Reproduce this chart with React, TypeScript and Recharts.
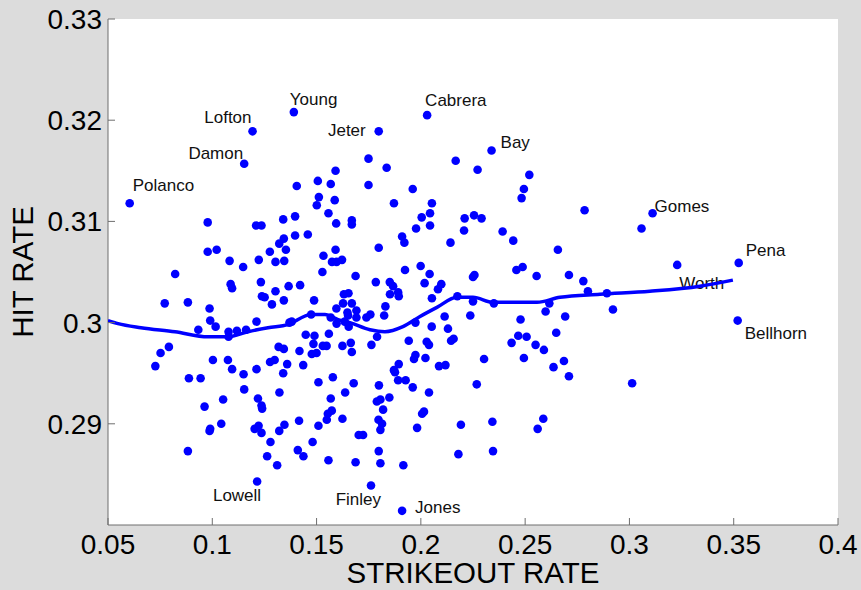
import { ScatterChart, Scatter, XAxis, YAxis, CartesianGrid, Label } from 'recharts'

// strikeout rate / hit rate for the unlabeled players
const SO_RATE = [
  0.1405, 0.1506, 0.1568, 0.1591, 0.1511, 0.1501, 0.1587, 0.1557, 0.1594, 0.0978,
  0.1210, 0.1236, 0.1340, 0.1397, 0.1397, 0.1458, 0.1343, 0.1321, 0.1353, 0.1021,
  0.0978, 0.1276, 0.1591, 0.1083, 0.1148, 0.1223, 0.1303, 0.1345, 0.0822, 0.1088,
  0.1095, 0.1233, 0.1366, 0.1421, 0.1303, 0.1238, 0.1251, 0.1343, 0.1286, 0.1533,
  0.1574, 0.1596, 0.1622, 0.1528, 0.1488, 0.1595, 0.0772, 0.0883, 0.0987, 0.0990,
  0.1016, 0.0933, 0.1078, 0.1078, 0.1118, 0.1162, 0.1212, 0.1370, 0.1381, 0.1474,
  0.1568, 0.1596, 0.1448, 0.1490, 0.1485, 0.1559, 0.1530, 0.1548, 0.1318, 0.1343,
  0.1418, 0.1477, 0.1500, 0.0792, 0.0752, 0.0727, 0.1003, 0.1075, 0.1095, 0.1150,
  0.1212, 0.1277, 0.1299, 0.1359, 0.1436, 0.1340, 0.0888, 0.0944, 0.1509, 0.1578,
  0.1153, 0.1322, 0.1219, 0.1052, 0.0963, 0.1236, 0.1239, 0.1568, 0.1573, 0.1554,
  0.1549, 0.1416, 0.1346, 0.1321, 0.1043, 0.0990, 0.0987, 0.1203, 0.1222, 0.1236,
  0.1279, 0.1509, 0.1481, 0.0883, 0.1263, 0.1311, 0.1410, 0.1437, 0.1557,
  0.1749, 0.1836, 0.1749, 0.1961, 0.2167, 0.2272, 0.2520, 0.2494, 0.2483, 0.1871,
  0.2053, 0.2004, 0.2044, 0.2044, 0.1669, 0.1669, 0.1977, 0.1910, 0.1921, 0.2210,
  0.2255, 0.2291, 0.2207, 0.2142, 0.2392, 0.2443, 0.1798, 0.2657, 0.1687, 0.1784,
  0.1924, 0.1999, 0.2042, 0.2018, 0.1851, 0.1867, 0.1852, 0.1891, 0.1894, 0.2098,
  0.2082, 0.2053, 0.2257, 0.2250, 0.2175, 0.2250, 0.2350, 0.2458, 0.2488, 0.2555,
  0.2616, 0.2598, 0.1631, 0.1653, 0.1627, 0.1669, 0.1691, 0.1648, 0.1651, 0.1691,
  0.1635, 0.1654, 0.1739, 0.1758, 0.1830, 0.1824, 0.1790, 0.1763, 0.1664, 0.1624,
  0.1669, 0.1974, 0.1942, 0.2052, 0.2114, 0.2130, 0.2237, 0.2028, 0.2039, 0.2145,
  0.2157, 0.1974, 0.1967, 0.2022, 0.1894, 0.1871, 0.1876, 0.2087, 0.2118, 0.2303,
  0.2478, 0.2467, 0.2507, 0.2435, 0.2550, 0.2590, 0.2494, 0.2649, 0.2636, 0.1678,
  0.1799, 0.1891, 0.1927, 0.2268, 0.1961, 0.2039, 0.1637, 0.1789, 0.1806, 0.1849,
  0.1819, 0.1624, 0.1797, 0.1814, 0.1806, 0.2006, 0.2015, 0.1982, 0.2192, 0.2343,
  0.2587, 0.2560, 0.1702, 0.1723, 0.1798, 0.2180, 0.2346, 0.1687, 0.1806, 0.1916,
  0.2785, 0.3058, 0.2710, 0.2779, 0.2801, 0.2892, 0.2692, 0.2921, 0.2686, 0.2710,
  0.3013,
]

const HIT_RATE = [
  0.3135, 0.3140, 0.3137, 0.3150, 0.3124, 0.3116, 0.3121, 0.3108, 0.3098, 0.3099,
  0.3096, 0.3096, 0.3102, 0.3105, 0.3086, 0.3087, 0.3083, 0.3078, 0.3072, 0.3072,
  0.3070, 0.3070, 0.3072, 0.3061, 0.3055, 0.3062, 0.3060, 0.3061, 0.3048, 0.3038,
  0.3034, 0.3040, 0.3036, 0.3037, 0.3031, 0.3026, 0.3025, 0.3022, 0.3018, 0.3066,
  0.3060, 0.3060, 0.3062, 0.3050, 0.3022, 0.3014, 0.3019, 0.3020, 0.3014, 0.3002,
  0.2996, 0.2993, 0.2991, 0.2986, 0.2992, 0.2993, 0.3001, 0.3000, 0.3001, 0.3008,
  0.3005, 0.2999, 0.2988, 0.2987, 0.2979, 0.2989, 0.2977, 0.2977, 0.2976, 0.2974,
  0.2972, 0.2969, 0.2970, 0.2976, 0.2970, 0.2957, 0.2963, 0.2963, 0.2954, 0.2949,
  0.2954, 0.2961, 0.2963, 0.2959, 0.2958, 0.2950, 0.2945, 0.2945, 0.2941, 0.2946,
  0.2934, 0.2931, 0.2925, 0.2924, 0.2917, 0.2918, 0.2915, 0.2925, 0.2913, 0.2910,
  0.2904, 0.2903, 0.2899, 0.2893, 0.2900, 0.2895, 0.2893, 0.2895, 0.2898, 0.2891,
  0.2882, 0.2898, 0.2882, 0.2873, 0.2868, 0.2859, 0.2874, 0.2868, 0.2864,
  0.3162, 0.3153, 0.3136, 0.3132, 0.3160, 0.3151, 0.3146, 0.3132, 0.3123, 0.3118,
  0.3118, 0.3104, 0.3108, 0.3096, 0.3101, 0.3097, 0.3093, 0.3085, 0.3079, 0.3103,
  0.3106, 0.3103, 0.3091, 0.3079, 0.3090, 0.3081, 0.3074, 0.3072, 0.3046, 0.3040,
  0.3052, 0.3056, 0.3048, 0.3039, 0.3040, 0.3036, 0.3028, 0.3030, 0.3026, 0.3038,
  0.3033, 0.3024, 0.3047, 0.3045, 0.3026, 0.3021, 0.3019, 0.3052, 0.3055, 0.3046,
  0.3019, 0.3011, 0.3028, 0.3029, 0.3019, 0.3019, 0.3012, 0.3010, 0.3007, 0.3005,
  0.3001, 0.2996, 0.3005, 0.3008, 0.3016, 0.3007, 0.2986, 0.2978, 0.2980, 0.2977,
  0.2971, 0.3000, 0.2982, 0.2996, 0.3006, 0.2994, 0.3007, 0.2981, 0.2978, 0.2982,
  0.2984, 0.2968, 0.2964, 0.2965, 0.2959, 0.2953, 0.2951, 0.2957, 0.2958, 0.2964,
  0.3003, 0.2987, 0.2986, 0.2980, 0.2978, 0.2973, 0.2965, 0.2990, 0.2956, 0.2940,
  0.2938, 0.2943, 0.2943, 0.2939, 0.2936, 0.2931, 0.2931, 0.2922, 0.2924, 0.2926,
  0.2914, 0.2905, 0.2904, 0.2900, 0.2894, 0.2910, 0.2912, 0.2896, 0.2899, 0.2902,
  0.2905, 0.2895, 0.2889, 0.2889, 0.2873, 0.2870, 0.2873, 0.2862, 0.2861, 0.2859,
  0.3111, 0.3093, 0.3047, 0.3041, 0.3031, 0.3029, 0.3006, 0.3013, 0.2962, 0.2947,
  0.2940,
]

// players with a name beside the dot
const LABELED_NAMES = [
  'Polanco', 'Damon', 'Lofton', 'Young', 'Jeter', 'Cabrera', 'Bay',
  'Gomes', 'Worth', 'Pena', 'Bellhorn', 'Lowell', 'Finley', 'Jones',
]
const LABELED_SO = [
  0.0604, 0.1153, 0.1193, 0.1391, 0.1798, 0.2030, 0.2339,
  0.3111, 0.3229, 0.3524, 0.3519, 0.1215, 0.1761, 0.1910,
]
const LABELED_HIT = [
  0.3118, 0.3157, 0.3189, 0.3208, 0.3189, 0.3205, 0.3170,
  0.3108, 0.3057, 0.3059, 0.3002, 0.2843, 0.2839, 0.2814,
]

// smoothed trend
const TREND_SO = [
  0.05, 0.0548, 0.0658, 0.0821, 0.0979, 0.1075, 0.1171, 0.1267, 0.1363, 0.1473,
  0.154, 0.1603, 0.166, 0.1756, 0.1828, 0.1914, 0.1996, 0.2077, 0.2173, 0.225,
  0.2346, 0.2441, 0.2557, 0.2667, 0.2859, 0.3098, 0.3338, 0.3496,
]
const TREND_HIT = [
  0.3002, 0.2999, 0.2995, 0.2991, 0.2986, 0.2986, 0.2991, 0.2995, 0.2998, 0.3008,
  0.3008, 0.3003, 0.3, 0.2993, 0.2991, 0.2996, 0.3006, 0.3015, 0.3025, 0.3025,
  0.302, 0.302, 0.302, 0.3025, 0.3028, 0.3031, 0.3036, 0.3042,
]

const X_TICKS = [0.05, 0.1, 0.15, 0.2, 0.25, 0.3, 0.35, 0.4]
const Y_TICKS = [0.29, 0.3, 0.31, 0.32, 0.33]

// where each name sits relative to its dot (px)
const LABEL_POS: Record<string, { dx: number; dy: number; anchor: string }> = {
  Polanco: { dx: 3, dy: -12, anchor: 'start' },
  Damon: { dx: -1, dy: -5, anchor: 'end' },
  Lofton: { dx: -1, dy: -8, anchor: 'end' },
  Young: { dx: -4, dy: -7, anchor: 'start' },
  Jeter: { dx: -13, dy: 5, anchor: 'end' },
  Cabrera: { dx: -2, dy: -9, anchor: 'start' },
  Bay: { dx: 9, dy: -3, anchor: 'start' },
  Gomes: { dx: 2, dy: -1, anchor: 'start' },
  Worth: { dx: 2, dy: 24, anchor: 'start' },
  Pena: { dx: 7, dy: -7, anchor: 'start' },
  Bellhorn: { dx: 7, dy: 18, anchor: 'start' },
  Lowell: { dx: 4, dy: 20, anchor: 'end' },
  Finley: { dx: 10, dy: 19, anchor: 'end' },
  Jones: { dx: 13, dy: 2, anchor: 'start' },
}

const FONT = "'Liberation Sans', Arial, sans-serif"
const BLUE = '#0000ff'
const AXIS = '#6e6e6e'

const points = SO_RATE.map((so, i) => ({ so, hit: HIT_RATE[i] }))
const labeled = LABELED_NAMES.map((name, i) => ({ name, so: LABELED_SO[i], hit: LABELED_HIT[i] }))
const trend = TREND_SO.map((so, i) => ({ so, hit: TREND_HIT[i] }))

const fmt = (v: number) => String(parseFloat(v.toFixed(2)))

const XTick = ({ x, y, payload }: any) => (
  <g>
    <line x1={x} y1={y} x2={x} y2={y - 7} stroke={AXIS} />
    <text x={x} y={y + 29} textAnchor='middle' fontSize={28} fontFamily={FONT} fill='#000'>
      {fmt(payload.value)}
    </text>
  </g>
)

const YTick = ({ x, y, payload }: any) => (
  <g>
    <line x1={x} y1={y} x2={x + 7} y2={y} stroke={AXIS} />
    <text x={x - 6} y={y + 10} textAnchor='end' fontSize={28} fontFamily={FONT} fill='#000'>
      {fmt(payload.value)}
    </text>
  </g>
)

const Dot = ({ cx, cy }: any) => <circle cx={cx} cy={cy} r={4.3} fill={BLUE} />

const NamedDot = ({ cx, cy, payload }: any) => {
  const p = LABEL_POS[payload.name]
  return (
    <g>
      <circle cx={cx} cy={cy} r={4.3} fill={BLUE} />
      <text
        x={cx + p.dx}
        y={cy + p.dy}
        textAnchor={p.anchor as any}
        fontSize={17}
        fontFamily={FONT}
        fill='#111'
      >
        {payload.name}
      </text>
    </g>
  )
}

export default function App() {
  return (
    <div style={{ position: 'fixed', left: 0, top: 0, width: 861, height: 590, background: '#dcdcdc' }}>
      <ScatterChart width={861} height={590} margin={{ top: 19, right: 23, bottom: 0, left: 0 }}>
        <CartesianGrid horizontal={false} vertical={false} fill='#fff' />
        <XAxis
          type='number'
          dataKey='so'
          domain={[0.05, 0.4]}
          ticks={X_TICKS}
          interval={0}
          allowDataOverflow
          height={65}
          tickSize={0}
          tickMargin={0}
          tick={<XTick />}
          axisLine={{ stroke: AXIS }}
        >
          <Label
            content={({ viewBox }: any) => (
              <text
                x={viewBox.x + viewBox.width / 2}
                y={viewBox.y + 58}
                textAnchor='middle'
                fontSize={29.5}
                fontFamily={FONT}
                fill='#000'
              >
                STRIKEOUT RATE
              </text>
            )}
          />
        </XAxis>
        <YAxis
          type='number'
          dataKey='hit'
          domain={[0.28, 0.33]}
          ticks={Y_TICKS}
          interval={0}
          allowDataOverflow
          width={108}
          tickSize={0}
          tickMargin={0}
          tick={<YTick />}
          axisLine={{ stroke: AXIS }}
        >
          <Label
            content={({ viewBox }: any) => {
              const cx = viewBox.x + 33
              const cy = viewBox.y + viewBox.height / 2
              return (
                <text
                  x={cx}
                  y={cy}
                  transform={`rotate(-90, ${cx}, ${cy})`}
                  textAnchor='middle'
                  fontSize={29.5}
                  fontFamily={FONT}
                  fill='#000'
                >
                  HIT RATE
                </text>
              )
            }}
          />
        </YAxis>
        <Scatter data={points} shape={<Dot />} isAnimationActive={false} />
        <Scatter data={labeled} shape={<NamedDot />} isAnimationActive={false} />
        <Scatter
          data={trend}
          line={{ stroke: BLUE, strokeWidth: 3.5 }}
          lineJointType='monotoneX'
          shape={() => <g />}
          isAnimationActive={false}
        />
      </ScatterChart>
    </div>
  )
}
